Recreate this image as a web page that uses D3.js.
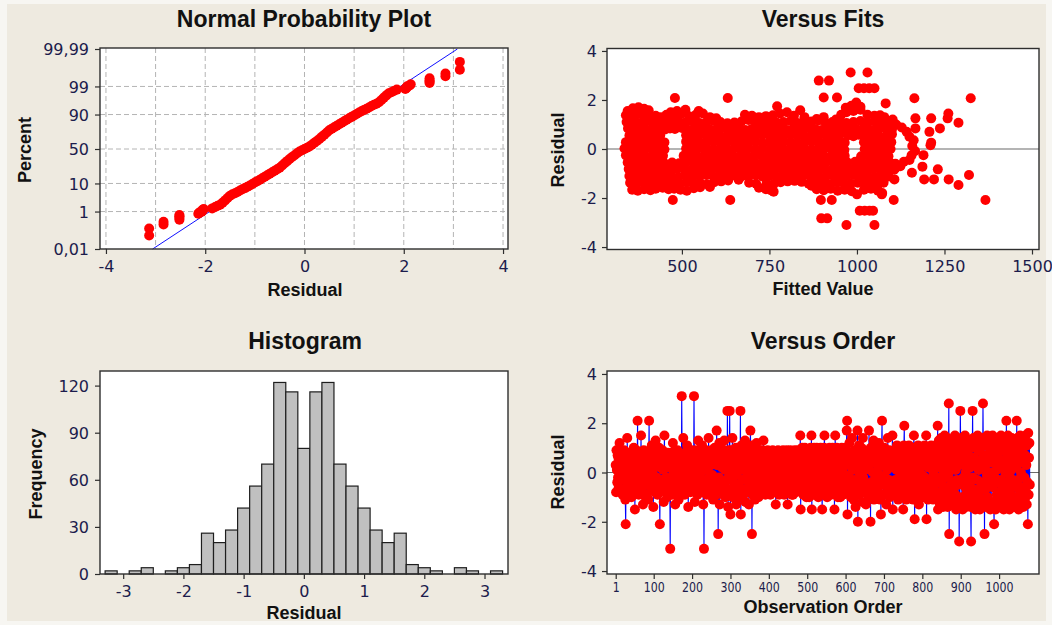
<!DOCTYPE html>
<html><head><meta charset="utf-8">
<script src="https://cdn.jsdelivr.net/npm/d3@7"></script>
<style>body{margin:0;background:#f7f6f2}svg{display:block}</style>
</head><body>
<svg id="c" width="1052" height="625"></svg>
<script>
// ---------------- DATA ----------------
// Normal probability plot: [residual, percent]
const nppPoints = [
[-3.13,0.065],[-3.13,0.157],[-2.84,0.25],[-2.84,0.34],[-2.52,0.43],[-2.52,0.53],[-2.52,0.62],[-2.52,0.71],
[-2.14,0.80],[-2.12,0.90],[-2.07,0.99],[-2.06,1.08],[-2.05,1.18],[-2.03,1.27],
[-1.86,1.36],[-1.8,1.55],[-1.75,1.75],[-1.7,1.9],[-1.65,2.3],[-1.6,2.8],[-1.55,3.4],[-1.5,4.1],[-1.45,4.6],
[-1.4,5.0],[-1.35,5.5],[-1.3,6.1],[-1.25,6.7],[-1.2,7.3],[-1.15,8.0],[-1.1,8.7],[-1.05,9.6],[-1.0,10.6],
[-0.95,11.6],[-0.9,12.6],[-0.85,13.8],[-0.8,15.1],[-0.75,16.4],[-0.7,17.8],[-0.65,19.3],[-0.6,20.9],
[-0.55,22.5],[-0.5,24.2],[-0.45,27],[-0.4,29.8],[-0.35,32.6],[-0.3,35.5],[-0.25,38.2],[-0.2,40.9],
[-0.15,43.6],[-0.1,46.3],[-0.05,48.1],[0,50],[0.05,51.9],[0.1,53.7],[0.15,56.4],[0.2,59.1],[0.25,61.8],
[0.3,64.5],[0.35,67.4],[0.4,70.2],[0.45,73],[0.5,75.8],[0.55,77.5],[0.6,79.1],[0.65,80.7],[0.7,82.2],
[0.75,83.6],[0.8,84.9],[0.85,86.2],[0.9,87.4],[0.95,88.4],[1.0,89.4],[1.05,90.4],[1.1,91.3],[1.15,92],
[1.2,92.7],[1.25,93.3],[1.3,93.9],[1.35,94.5],[1.4,95],[1.45,95.4],[1.5,95.9],[1.55,96.6],[1.6,97.2],
[1.65,97.7],[1.7,98.1],[1.75,98.25],[1.8,98.45],[1.86,98.64],
[2.03,98.73],[2.05,98.82],[2.06,98.92],[2.07,99.01],[2.12,99.1],[2.14,99.2],
[2.52,99.29],[2.52,99.38],[2.52,99.47],[2.52,99.57],[2.84,99.66],[2.84,99.75],[3.13,99.84],[3.13,99.94]
];
const nppFitLine = [[-3.06,0.01],[3.08,99.99]];
const nppPercentTicks = [0.01,1,10,50,90,99,99.99];
const nppPercentLabels = ["0,01","1","10","50","90","99","99,99"];
const nppResidTicks = [-4,-2,0,2,4];
const nppGridX = [-4,-3,-2,-1,0,1,2,3,4];

// Versus fits: [fitted value, residual]
const fitsCore = [
[345,1.55],[360,1.66],[376,1.7],[392,1.64],[405,1.58],[468,1.5],[486,1.55],[510,1.6],[548,1.55],[772,1.74],[838,1.58],[968,1.68],[984,1.76],[998,1.9],[1010,1.72],
[340,1.38],[356,1.36],[372,1.42],[390,1.35],[408,1.32],[425,1.36],[440,1.3],[456,1.4],[476,1.38],[496,1.42],[520,1.34],[540,1.4],[560,1.45],[580,1.3],[598,1.25],[680,1.4],[700,1.36],[720,1.3],[740,1.34],[760,1.38],[780,1.45],[800,1.5],[820,1.36],[850,1.3],[885,1.22],[905,1.3],[940,1.2],[955,1.4],[970,1.5],[990,1.55],[1010,1.6],[1030,1.4],[1050,1.36],[1066,1.38],[1078,1.3],
[342,1.1],[358,1.14],[374,1.06],[394,1.1],[410,1.12],[428,1.08],[444,1.05],[458,1.12],[470,1.1],[490,1.14],[510,1.08],[530,1.12],[550,1.06],[570,1.1],[590,1.15],[610,1.1],[630,1.05],[650,1.08],[670,1.12],[690,1.18],[710,1.1],[730,1.05],[750,1.12],[770,1.08],[790,1.1],[810,1.14],[830,1.06],[850,1.1],[870,1.12],[890,1.16],[910,1.08],[930,1.1],[950,1.12],[970,1.06],[990,1.1],[1010,1.14],[1030,1.08],[1050,1.12],[1070,1.05],[1090,1.1],[1102,1.2],
[346,.84],[362,.8],[380,.86],[398,.78],[416,.82],[434,.8],[452,.8],[466,.84],[480,.82],[500,.86],[520,.78],[540,.82],[560,.84],[580,.8],[600,.82],[620,.86],[640,.8],[660,.84],[680,.78],[700,.82],[720,.86],[740,.8],[760,.84],[780,.82],[800,.78],[820,.84],[840,.8],[860,.86],[880,.82],[900,.78],[920,.84],[940,.8],[960,.82],[980,.86],[1000,.8],[1020,.84],[1040,.78],[1060,.82],[1080,.86],[1100,.8],
[350,.55],[368,.58],[386,.52],[404,.56],[422,.54],[438,.55],[512,.56],[530,.52],[550,.58],[570,.54],[590,.56],[610,.52],[630,.55],[650,.58],[670,.54],[690,.56],[710,.52],[730,.58],[750,.55],[770,.52],[790,.56],[810,.58],[830,.54],[850,.52],[870,.56],[890,.55],[910,.58],[930,.52],[950,.56],[975,.56],[990,.52],[1005,.58],[1025,.54],[1045,.56],[1065,.52],[1085,.56],[1100,.6],
[340,.28],[356,.25],[372,.3],[390,.26],[408,.28],[426,.24],[440,.3],[450,.27],[512,.3],[530,.26],[550,.28],[570,.24],[590,.3],[610,.26],[630,.28],[650,.3],[670,.25],[690,.28],[710,.3],[730,.24],[750,.28],[770,.26],[790,.3],[810,.28],[830,.24],[850,.28],[870,.3],[890,.26],[910,.28],[930,.24],[950,.3],[965,.26],[1020,.28],[1040,.24],[1060,.3],[1080,.26],[1098,.28],
[336,.02],[350,-.04],[366,.03],[382,-.02],[400,.04],[418,0],[436,-.03],[450,-.02],[512,.02],[530,-.03],[550,.04],[570,0],[590,-.02],[610,.03],[630,-.04],[650,.02],[670,0],[690,.04],[710,-.02],[730,.02],[750,-.04],[770,.03],[790,0],[810,-.02],[830,.04],[850,0],[870,-.03],[890,.02],[910,.04],[930,-.02],[950,.02],[964,-.04],[1022,0],[1040,.03],[1060,-.02],[1080,.02],[1096,0],
[340,-.26],[358,-.3],[376,-.25],[394,-.28],[412,-.3],[430,-.26],[446,-.28],[505,-.28],[525,-.25],[545,-.3],[565,-.26],[585,-.28],[605,-.3],[625,-.25],[645,-.28],[665,-.3],[685,-.26],[705,-.28],[725,-.25],[745,-.3],[765,-.27],[785,-.25],[805,-.3],[825,-.28],[845,-.26],[865,-.3],[885,-.25],[905,-.28],[925,-.3],[945,-.26],[965,-.28],[1012,-.3],[1030,-.26],[1050,-.28],[1070,-.25],[1090,-.3],
[345,-.55],[362,-.52],[380,-.58],[398,-.54],[416,-.56],[434,-.52],[450,-.58],[472,-.55],[492,-.58],[512,-.52],[532,-.56],[552,-.54],[572,-.58],[592,-.52],[612,-.55],[632,-.58],[652,-.54],[672,-.52],[692,-.56],[712,-.58],[732,-.54],[752,-.52],[772,-.56],[792,-.55],[812,-.58],[832,-.52],[852,-.56],[872,-.54],[892,-.58],[912,-.52],[932,-.55],[952,-.58],[972,-.54],[995,-.52],[1015,-.56],[1035,-.58],[1055,-.54],[1075,-.52],[1095,-.56],[1110,-.6],
[348,-.82],[366,-.85],[384,-.8],[402,-.84],[420,-.82],[438,-.86],[452,-.8],[466,-.84],[486,-.8],[506,-.82],[526,-.86],[546,-.8],[566,-.84],[586,-.82],[606,-.8],[626,-.86],[646,-.82],[666,-.84],[686,-.8],[706,-.82],[726,-.86],[746,-.8],[766,-.84],[786,-.82],[806,-.8],[826,-.86],[846,-.82],[866,-.84],[886,-.8],[906,-.82],[926,-.86],[946,-.8],[966,-.84],[986,-.82],[1006,-.8],[1026,-.86],[1046,-.82],[1066,-.84],[1086,-.8],[1106,-.85],
[350,-1.1],[368,-1.14],[386,-1.08],[404,-1.12],[422,-1.1],[440,-1.06],[456,-1.12],[470,-1.1],[490,-1.14],[510,-1.08],[530,-1.12],[550,-1.1],[570,-1.06],[590,-1.12],[610,-1.1],[630,-1.14],[650,-1.08],[670,-1.12],[690,-1.1],[710,-1.06],[730,-1.12],[750,-1.1],[770,-1.14],[790,-1.08],[810,-1.12],[830,-1.1],[850,-1.06],[870,-1.12],[890,-1.1],[910,-1.14],[930,-1.08],[950,-1.12],[970,-1.1],[990,-1.06],[1010,-1.12],[1030,-1.1],[1050,-1.14],[1070,-1.08],[1090,-1.12],
[352,-1.38],[370,-1.42],[388,-1.36],[406,-1.4],[424,-1.38],[440,-1.34],[456,-1.4],[472,-1.38],[492,-1.42],[512,-1.36],[532,-1.4],[552,-1.38],[572,-1.44],[592,-1.36],[612,-1.32],[632,-1.28],[662,-1.25],[692,-1.38],[712,-1.42],[742,-1.4],[762,-1.44],[782,-1.36],[802,-1.32],[822,-1.3],[842,-1.34],[862,-1.42],[882,-1.4],[902,-1.38],[922,-1.44],[942,-1.36],[962,-1.4],[982,-1.42],[1002,-1.38],[1022,-1.4],[1042,-1.36],[1062,-1.42],[1076,-1.38],
[358,-1.66],[374,-1.7],[392,-1.64],[410,-1.68],[425,-1.62],[445,-1.58],[462,-1.64],[478,-1.62],[496,-1.66],[514,-1.7],[534,-1.6],[552,-1.56],[580,-1.55],[720,-1.58],[740,-1.64],[754,-1.68],[762,-1.74],[870,-1.5],[885,-1.64],[905,-1.68],[925,-1.62],[945,-1.7],[965,-1.66],[985,-1.72],[1000,-1.85],[1020,-1.66],[1040,-1.62],[1060,-1.7],[1072,-1.8]
];
const fitsSparse = [
[480,2.08],[474,-2.08],[631,2.08],[638,-2.08],[891,2.79],[920,2.79],[905,2.1],[943,2.1],[982,3.12],[1030,3.12],
[1005,2.48],[1020,2.48],[1035,2.48],[1050,2.48],[897,-2.08],[928,-2.08],[898,-2.83],[915,-2.83],[970,-3.1],[1050,-3.1],
[1008,-2.52],[1022,-2.52],[1036,-2.52],[1046,-2.52],[1105,-2.08],[1071,-1.85],[1082,1.86],[1164,2.07],[1325,2.07],[1367,-2.08],
[1112,1.0],[1128,.88],[1142,.7],[1150,.5],[1162,.36],[1158,.12],[1166,-.08],[1156,-.26],[1150,-.45],[1134,-.52],[1124,-.7],[1110,-.78],
[1167,1.25],[1212,1.25],[1261,1.45],[1259,1.25],[1290,1.07],[1237,.84],[1207,.7],[1212,.26],[1210,.15],[1167,.84],
[1190,-.25],[1187,-.72],[1192,-1.24],[1220,-1.24],[1231,-.83],[1262,-1.24],[1290,-1.47],[1320,-1.06],[1157,-.97],[1107,-1.24]
];
const fitsXTicks = [500,750,1000,1250,1500];
const residTicks = [-4,-2,0,2,4];

// Histogram
const histCenters = [-3.2,-3.0,-2.8,-2.6,-2.4,-2.2,-2.0,-1.8,-1.6,-1.4,-1.2,-1.0,-0.8,-0.6,-0.4,-0.2,0,0.2,0.4,0.6,0.8,1.0,1.2,1.4,1.6,1.8,2.0,2.2,2.4,2.6,2.8,3.0,3.2];
const histCounts = [2,0,2,4,0,2,4,6,26,20,28,42,56,70,122,116,80,116,122,70,56,42,28,20,26,6,4,2,0,4,2,0,2];
const histBinWidth = 0.2;
const histXTicks = [-3,-2,-1,0,1,2,3];
const histYTicks = [0,30,60,90,120];

// Versus order: residual of observations 1..1080
const orderResid = [
.3,-.8,.9,.1,-.4,.7,-.2,.6,-.6,.4,1.2,-.1,.5,-.7,.2,.8,-.3,.5,-.9,0,
-.7,.6,.9,-.3,.4,-1.1,-2.1,.2,.7,-.6,1.4,-.2,.5,-.8,.3,-.4,.1,.8,-.6,.3,
.7,-1.0,.2,.8,-.5,.4,-.6,1.0,-.1,.6,-1.5,.5,-.3,.3,.9,-.7,.5,2.1,-.8,.1,
-.9,.8,-.2,.6,-.6,.3,1.5,-.7,.5,-.4,.7,-1.3,.2,.9,-.5,.6,-.1,.8,-1.0,.4,
.2,-.9,.7,-.3,.5,-1.1,.4,2.1,-.5,.9,-.1,.6,-.7,.3,1.1,-.4,0,.6,-1.4,.5,
-.4,.7,-.8,.3,1.3,-.5,.6,-.2,.8,-.9,.4,.6,-.5,1.0,-.6,-2.1,.2,.5,-.3,.8,
-.6,.5,.9,-.4,.1,-1.2,.7,1.5,-.6,.3,-.8,.6,-.2,.5,-1.0,.4,.8,-.5,.6,-.7,
.2,-.6,-3.1,.5,.8,-.3,.7,-.9,.3,1.2,-.6,0,.6,-.4,.9,-1.3,.5,-.2,.8,-.8,
.4,.9,-.7,.1,-1.1,.6,-.3,.8,-.6,.5,0,-.5,3.1,.7,-.8,.3,1.4,-.6,.5,-.2,
-.9,.6,.8,-.4,.2,-.7,1.1,-.1,.5,-1.4,.4,.7,-.6,0,.6,-.8,.5,-.3,.9,-.5,
.3,-.7,.8,-.2,3.1,.6,-1.2,.6,-.5,.9,.1,-.6,.7,-.9,.4,1.3,-.3,.5,-.7,.2,
-.6,.8,0,-.8,.7,1.1,-.4,.5,-1.3,.6,-3.1,.2,.8,-.6,.4,-.3,.9,-.9,.6,.1,
.8,-.7,1.4,-.2,.5,-.9,.7,-.5,.3,.9,-.6,.6,-.1,.8,-1.1,.4,.6,-.6,1.0,-.3,
-.4,.8,-.9,1.7,.3,-.6,.9,-2.5,.6,-.2,1.2,-1.3,.4,.7,-.6,1.0,-.8,.2,.6,-.5,
.9,-.9,.4,1.3,-.5,.1,-1.0,.8,-.3,.7,-.7,2.5,.5,-1.4,.9,-.2,.6,2.5,-.7,-1.7,
.3,.9,-.8,0,1.4,-1.0,.6,-.4,.8,-.7,.2,.6,-.6,1.0,-1.3,.5,-.1,.7,-.9,.4,
.8,-.5,.7,-1.0,.2,2.5,-1.7,.4,1.1,-.7,.6,-.3,.9,-.9,.1,.8,-.7,1.3,-1.2,.5,
-.2,.7,-.8,1.0,.3,-.6,.9,-1.3,.5,0,-.7,1.7,.7,-.4,1.1,-2.5,.2,-.9,.6,-.3,
.9,-.7,.4,-1.1,.8,.1,-.4,1.2,-.7,.6,-.1,.8,-1.0,.3,.7,-.6,.9,-.8,.5,-.2,
.6,-.8,.2,.9,-.4,1.3,-.7,.3,-.1,.8,-.9,.5,0,-.6,.7,-.3,.9,-.8,.4,-.2,
.3,-.6,.8,-.9,.1,.7,-.4,.5,-.8,.9,-.2,.4,-.7,.6,0,-.5,.8,-1.3,.2,-.3,
-.7,.5,-.1,.9,-.5,.2,-.9,.7,0,-.4,.8,-.8,.3,.6,-.6,.1,.9,-.3,.4,-.9,
.6,-.2,.8,-.7,.3,-.5,.9,0,-1.3,.5,-.8,.7,-.1,.4,-.6,.9,-.4,.2,.7,-.9,
-.3,.8,-.9,.4,.1,-.6,.9,-.2,.6,-.8,.3,.7,-.5,0,.9,-.7,.5,-.4,.8,-.1,
.4,1.5,-1.5,.7,-.8,.2,1.0,-.5,.6,-.9,.3,.8,-.3,1.0,-.7,.1,.9,-1.0,.5,-.2,
-.6,.9,-.1,.5,-1.0,.7,.2,-.7,1.0,-.4,1.5,-1.5,.3,.8,-.9,.6,-.2,1.0,-.5,.1,
.8,-.3,.5,-.9,1.0,-.6,.2,.9,-1.0,.4,-.2,.7,-.8,.1,1.0,-.5,.6,-.7,-1.5,.3,
-.8,.6,-.2,1.0,1.5,-.9,.3,-.5,.8,-.1,.5,-1.0,.9,-.4,.2,.7,-.7,1.0,-.3,.4,
.1,-.9,.8,-.4,.5,1.0,-.7,.3,-.2,.9,-1.5,.6,1.5,-.8,.2,-.5,1.0,-.1,.7,-1.0,
.5,-.6,.9,-.2,.3,-1.0,.7,0,-.8,1.0,-.4,.6,-.9,.2,.8,-.3,.4,-.7,1.0,-.1,
-.5,.9,1.7,2.1,-1.7,.4,-.8,.7,-.2,1.2,-.8,.3,.8,-1.0,.6,-.4,1.4,-.7,.1,.7,
-1.1,.5,.9,-.3,.8,-1.4,.2,.7,-.6,.4,1.7,-2.0,.7,-.9,1.1,0,-.8,.9,-.4,.6,
1.0,-.7,.3,-1.2,1.4,-.2,.6,-.8,.9,.1,-.5,.8,-1.3,.4,.8,-.8,.2,.7,-.6,-1.0,
1.7,.3,-.9,.8,-2.0,1.0,-.4,.5,-.8,.9,0,-.7,1.3,-1.1,.6,-.3,.9,-.8,.4,1.1,
-.6,.7,-1.0,.8,.2,-.8,1.2,-.1,.5,-1.1,.9,-1.7,.4,1.0,2.1,-.5,.3,-.9,.8,-.3,
1.0,-.9,.4,-.2,.8,-1.3,.7,.1,-.6,1.4,-.8,.5,-.3,.9,-1.0,.2,.8,-.7,.6,-.4,
.3,1.5,-1.5,.8,-.6,.2,.9,-.9,.5,-.3,.7,-.8,.1,1.1,-.5,.6,-1.1,.4,.8,-.2,
-.7,.5,1.0,-.4,.2,-1.0,.8,-.1,.6,-1.5,.3,1.1,1.9,-.8,.4,-.5,.9,-1.1,.1,.7,
-.3,.9,-.9,.4,1.1,-.6,.2,-1.0,.7,0,-.5,1.0,-.8,.5,.3,-1.1,.8,1.5,-.4,-1.9,
.6,-.2,1.0,-.9,.3,.8,-.6,.1,1.1,-.4,-1.3,.5,.9,-1.0,.2,-.3,1.0,-.7,.4,-.1,
.8,-1.0,.3,.6,-.5,1.1,-.2,-.8,.4,1.5,-1.9,.7,-.4,.9,-1.1,.2,1.0,-.6,.5,-.3,
-.7,.2,1.1,-.9,.5,-.3,.8,-1.1,0,1.0,-.5,.6,-.8,.3,1.1,-1.0,.4,-.2,.7,1.9,
-1.5,.6,1.3,-.8,.2,-1.3,1.0,-.3,1.4,-1.1,.5,-.5,1.2,-1.4,.8,0,-.9,1.5,-.2,.4,
1.1,-1.2,.3,-.6,1.4,-1.4,.7,-.1,2.8,-2.5,.9,-.8,1.3,.2,-1.3,.6,-.4,1.0,-1.0,.5,
-.7,1.2,-1.3,.4,1.5,-.9,.1,-1.5,.8,-.3,1.3,-1.1,.6,-.5,1.0,-2.8,.3,-1.2,2.5,.9,
-.4,1.4,-1.0,.5,-1.5,1.1,-.2,.8,-1.3,.3,1.5,-.6,0,-1.4,1.2,-.8,.6,-1.1,1.0,-.3,
.7,-1.2,1.3,-.5,.2,-1.4,-2.8,1.1,-.9,.4,2.5,-.2,1.4,-1.1,.6,-.7,1.0,-1.5,.3,1.2,
-1.0,.5,-.3,1.5,-1.3,.9,.1,-.8,1.2,-1.5,.4,1.0,-.6,1.4,-1.2,.2,-.4,2.8,.7,-1.1,
.6,-2.5,1.3,-.7,.3,-1.4,1.1,-.1,1.5,-1.0,.5,-.5,1.2,-1.3,.8,0,-1.5,1.4,-.3,.9,
-1.2,.4,1.5,-.6,.9,-1.3,-2.1,1.2,-.2,.6,-1.5,1.0,.1,-.9,1.4,-1.1,.3,.8,-.4,1.3,
-.8,1.1,-1.4,.5,1.5,-.3,.2,-1.2,1.3,-.6,.9,-1.5,.4,1.2,-1.0,0,1.4,-.7,2.1,-1.3,
.7,-.4,1.5,-1.1,.3,1.0,-1.5,.6,-.2,1.3,-.9,.1,1.4,-1.3,.8,-.6,1.1,-1.0,.4,-1.4,
1.2,-.5,.9,-1.3,.2,2.1,-1.0,1.4,-.3,.6,-1.5,1.1,-.7,.4,1.5,-1.2,0,.8,-.9,1.3,
-.6,1.0,-1.4,.5,1.3,-.2,-1.1,.7,1.5,-.8,.3,-1.3,1.1,-.4,-2.1,1.6,-.9,.6,1.2,-.5
];
const orderXTicks = [1,100,200,300,400,500,600,700,800,900,1000];

// ---------------- DRAWING ----------------
function qnorm(p){
  const a=[-3.969683028665376e+01,2.209460984245205e+02,-2.759285104469687e+02,1.383577518672690e+02,-3.066479806614716e+01,2.506628277459239e+00];
  const b=[-5.447609879822406e+01,1.615858368580409e+02,-1.556989798598866e+02,6.680131188771972e+01,-1.328068155288572e+01];
  const c=[-7.784894002430293e-03,-3.223964580411365e-01,-2.400758277161838e+00,-2.549732539343734e+00,4.374664141464968e+00,2.938163982698783e+00];
  const d=[7.784695709041462e-03,3.224671290700398e-01,2.445134137142996e+00,3.754408661907416e+00];
  const pl=0.02425; let q,r;
  if(p<pl){q=Math.sqrt(-2*Math.log(p));return (((((c[0]*q+c[1])*q+c[2])*q+c[3])*q+c[4])*q+c[5])/((((d[0]*q+d[1])*q+d[2])*q+d[3])*q+1);}
  if(p<=1-pl){q=p-0.5;r=q*q;return (((((a[0]*r+a[1])*r+a[2])*r+a[3])*r+a[4])*r+a[5])*q/(((((b[0]*r+b[1])*r+b[2])*r+b[3])*r+b[4])*r+1);}
  q=Math.sqrt(-2*Math.log(1-p));return -(((((c[0]*q+c[1])*q+c[2])*q+c[3])*q+c[4])*q+c[5])/((((d[0]*q+d[1])*q+d[2])*q+d[3])*q+1);
}

const svg = d3.select('#c');
svg.append('rect').attr('width',1052).attr('height',625).attr('fill','#f7f6f2');
svg.append('rect').attr('x',7).attr('y',4).attr('width',1039).attr('height',617).attr('fill','#eeeae0');

const TICKFONT = "'DejaVu Sans', Verdana, sans-serif";
const BOLDFONT = "'Liberation Sans', Arial, sans-serif";
const TICKCOL = '#1c1c4c';
const RED = '#ff0000';
const R = 5;

const P1 = {x0:100,x1:508,y0:48,y1:249};
const P2 = {x0:607,x1:1039,y0:48.5,y1:249.5};
const P3 = {x0:100,x1:508,y0:371,y1:574};
const P4 = {x0:607,x1:1039,y0:371,y1:574};

function plotBg(p){
  svg.append('rect').attr('x',p.x0).attr('y',p.y0).attr('width',p.x1-p.x0).attr('height',p.y1-p.y0).attr('fill','#ffffff');
}
function plotFrame(p){
  svg.append('rect').attr('x',p.x0).attr('y',p.y0).attr('width',p.x1-p.x0).attr('height',p.y1-p.y0)
    .attr('fill','none').attr('stroke','#2e2e2e').attr('stroke-width',1.4);
}
function title(txt,cx,by){
  svg.append('text').attr('x',cx).attr('y',by).attr('text-anchor','middle')
    .attr('font-family',BOLDFONT).attr('font-weight','bold').attr('font-size',23).attr('fill','#111').text(txt);
}
function xlabel(txt,cx,by){
  svg.append('text').attr('x',cx).attr('y',by).attr('text-anchor','middle')
    .attr('font-family',BOLDFONT).attr('font-weight','bold').attr('font-size',18).attr('fill','#111').text(txt);
}
function ylabel(txt,bx,cy){
  svg.append('text').attr('transform',`translate(${bx},${cy}) rotate(-90)`).attr('text-anchor','middle')
    .attr('font-family',BOLDFONT).attr('font-weight','bold').attr('font-size',18).attr('fill','#111').text(txt);
}
function leftAxis(scale,p,vals,fmt,rightEdge){
  const g = svg.append('g').attr('transform',`translate(${p.x0},0)`)
    .call(d3.axisLeft(scale).tickValues(vals).tickFormat(fmt).tickSize(5).tickSizeOuter(0).tickPadding(p.x0-5-rightEdge));
  g.select('.domain').remove();
  g.selectAll('line').attr('stroke','#2e2e2e').attr('stroke-width',1.2);
  g.selectAll('text').attr('font-family',TICKFONT).attr('font-size',16).attr('fill',TICKCOL).attr('dy','0.36em');
  return g;
}
function bottomAxis(scale,p,vals,fmt,baseline,size){
  const g = svg.append('g').attr('transform',`translate(0,${p.y1})`)
    .call(d3.axisBottom(scale).tickValues(vals).tickFormat(fmt).tickSize(5).tickSizeOuter(0));
  g.select('.domain').remove();
  g.selectAll('line').attr('stroke','#2e2e2e').attr('stroke-width',1.2);
  g.selectAll('text').attr('font-family',TICKFONT).attr('font-size',size||16).attr('fill',TICKCOL)
    .attr('dy',null).attr('y',baseline-p.y1);
  return g;
}
const hy = d => String(d).replace('\u2212','-');

// ---- Panel 1: Normal Probability Plot ----
const x1s = d3.scaleLinear().domain([-4.12,4.1]).range([P1.x0,P1.x1]);
const z1s = d3.scaleLinear().domain([qnorm(0.0001),qnorm(0.9999)]).range([P1.y1,P1.y0+1]);
const y1p = p => z1s(qnorm(p/100));
plotBg(P1);
const grid = svg.append('g').attr('stroke','#b4b4b4').attr('stroke-width',1).attr('stroke-dasharray','5,3');
grid.selectAll('line.v').data(nppGridX).join('line').attr('class','v')
  .attr('x1',d=>x1s(d)).attr('x2',d=>x1s(d)).attr('y1',P1.y0).attr('y2',P1.y1);
grid.selectAll('line.h').data(nppPercentTicks.slice(1,-1)).join('line').attr('class','h')
  .attr('x1',P1.x0).attr('x2',P1.x1).attr('y1',d=>y1p(d)).attr('y2',d=>y1p(d));
svg.append('line').attr('x1',x1s(nppFitLine[0][0])).attr('y1',y1p(nppFitLine[0][1]))
  .attr('x2',x1s(nppFitLine[1][0])).attr('y2',y1p(nppFitLine[1][1])).attr('stroke','#1010ff').attr('stroke-width',1);
svg.append('g').selectAll('circle').data(nppPoints).join('circle')
  .attr('cx',d=>x1s(d[0])).attr('cy',d=>y1p(d[1])).attr('r',R).attr('fill',RED);
plotFrame(P1);
leftAxis(d3.scaleLinear().domain(z1s.domain()).range(z1s.range()),P1,nppPercentTicks.map(p=>qnorm(p/100)),(d,i)=>nppPercentLabels[i],89);
bottomAxis(x1s,P1,nppResidTicks,hy,272);
title('Normal Probability Plot',304,27);
xlabel('Residual',305,296);
ylabel('Percent',31,150);

// ---- Panel 2: Versus Fits ----
const x2s = d3.scaleLinear().domain([286,1520]).range([P2.x0,P2.x1]);
const y2s = d3.scaleLinear().domain([-4.1,4.1]).range([P2.y1,P2.y0]);
plotBg(P2);
svg.append('line').attr('x1',P2.x0).attr('x2',P2.x1).attr('y1',y2s(0)).attr('y2',y2s(0)).attr('stroke','#6a6a6a').attr('stroke-width',1.2);
svg.append('g').selectAll('circle').data(fitsCore.concat(fitsSparse)).join('circle')
  .attr('cx',d=>x2s(d[0])).attr('cy',d=>y2s(d[1])).attr('r',R).attr('fill',RED);
plotFrame(P2);
leftAxis(y2s,P2,residTicks,hy,597);
bottomAxis(x2s,P2,fitsXTicks,d=>String(d),272);
title('Versus Fits',823,27);
xlabel('Fitted Value',823,295);
ylabel('Residual',564,150);

// ---- Panel 3: Histogram ----
const x3s = d3.scaleLinear().domain([-3.385,3.39]).range([P3.x0,P3.x1]);
const y3s = d3.scaleLinear().domain([0,129.3]).range([P3.y1,P3.y0]);
plotBg(P3);
const bins = histCenters.map((c,i)=>({c,n:histCounts[i]})).filter(b=>b.n>0);
svg.append('g').selectAll('rect').data(bins).join('rect')
  .attr('x',b=>x3s(b.c-histBinWidth/2)).attr('width',b=>x3s(b.c+histBinWidth/2)-x3s(b.c-histBinWidth/2))
  .attr('y',b=>y3s(b.n)).attr('height',b=>y3s(0)-y3s(b.n))
  .attr('fill','#c0c0c0').attr('stroke','#1e1e1e').attr('stroke-width',1.2);
plotFrame(P3);
leftAxis(y3s,P3,histYTicks,d=>String(d),89);
bottomAxis(x3s,P3,histXTicks,hy,597);
title('Histogram',305,349);
xlabel('Residual',304,619);
ylabel('Frequency',42,474);

// ---- Panel 4: Versus Order ----
const x4s = d3.scaleLinear().domain([-21.7,1104]).range([P4.x0,P4.x1]);
const y4s = d3.scaleLinear().domain([-4.12,4.12]).range([P4.y1,P4.y0]);
plotBg(P4);
svg.append('line').attr('x1',P4.x0).attr('x2',P4.x1).attr('y1',y4s(0)).attr('y2',y4s(0)).attr('stroke','#6a6a6a').attr('stroke-width',1.2);
svg.append('path').datum(orderResid).attr('fill','none').attr('stroke','#0000ff').attr('stroke-width',1.1)
  .attr('d',d3.line().x((d,i)=>x4s(i+1)).y(d=>y4s(d)));
svg.append('g').selectAll('circle').data(orderResid).join('circle')
  .attr('cx',(d,i)=>x4s(i+1)).attr('cy',d=>y4s(d)).attr('r',R).attr('fill',RED);
plotFrame(P4);
leftAxis(y4s,P4,residTicks,hy,597);
const ox = bottomAxis(x4s,P4,orderXTicks,d=>String(d),592,14);
ox.selectAll('text').attr('textLength',function(){return this.textContent.length*7;}).attr('lengthAdjust','spacingAndGlyphs');
title('Versus Order',823,349);
xlabel('Observation Order',823,613);
ylabel('Residual',564,472);
</script>
</body></html>
